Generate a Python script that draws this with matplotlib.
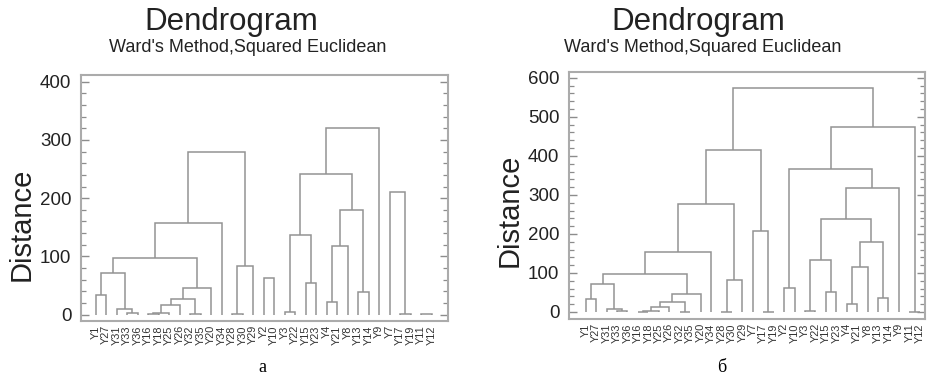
import matplotlib
matplotlib.use("Agg")
import matplotlib.pyplot as plt
from matplotlib.ticker import MultipleLocator

plt.rcParams['font.family'] = ['Liberation Sans', 'DejaVu Sans']

# ---------------- data ----------------
leaves_a = ["Y1", "Y27", "Y31", "Y33", "Y36", "Y16", "Y18", "Y25", "Y26", "Y32", "Y35",
            "Y20", "Y34", "Y28", "Y30", "Y29", "Y2", "Y10", "Y3", "Y22", "Y15", "Y23",
            "Y4", "Y21", "Y8", "Y13", "Y14", "Y9", "Y7", "Y17", "Y19", "Y11", "Y12"]

# merges: (child A, child B, distance); int children refer to earlier merges
merges_a = [
    ("Y1", "Y27", 33.5),    # 0
    ("Y33", "Y36", 3),      # 1
    ("Y31", 1, 10),         # 2
    (0, 2, 71.8),           # 3
    ("Y16", "Y18", 0.5),    # 4
    (4, "Y25", 2),          # 5
    (5, "Y26", 15.8),       # 6
    ("Y32", "Y35", 0.5),    # 7
    (6, 7, 26),             # 8
    (8, "Y20", 46),         # 9
    (3, 9, 97.6),           # 10
    (10, "Y34", 156.7),     # 11
    ("Y28", "Y30", 0.5),    # 12
    (12, "Y29", 84),        # 13
    (11, 13, 278.7),        # 14
    ("Y2", "Y10", 62),      # 15
    ("Y3", "Y22", 4.8),     # 16
    ("Y15", "Y23", 53.6),   # 17
    (16, 17, 136.6),        # 18
    ("Y4", "Y21", 21),      # 19
    (19, "Y8", 118),        # 20
    ("Y13", "Y14", 39),     # 21
    (20, 21, 179.5),        # 22
    (18, 22, 241),          # 23
    (23, "Y9", 320),        # 24
    ("Y17", "Y19", 0.5),    # 25
    ("Y7", 25, 210),        # 26
    ("Y11", "Y12", 0.5),    # 27
]

leaves_b = ["Y1", "Y27", "Y31", "Y33", "Y36", "Y16", "Y18", "Y25", "Y26", "Y32", "Y35",
            "Y20", "Y34", "Y28", "Y30", "Y29", "Y7", "Y17", "Y19", "Y2", "Y10", "Y3",
            "Y22", "Y15", "Y23", "Y4", "Y21", "Y8", "Y13", "Y14", "Y9", "Y11", "Y12"]

merges_b = [
    ("Y1", "Y27", 32.6),    # 0
    ("Y33", "Y36", 2.5),    # 1
    ("Y31", 1, 7.7),        # 2
    (0, 2, 71),             # 3
    ("Y16", "Y18", 0.5),    # 4
    (4, "Y25", 2),          # 5
    (5, "Y26", 13.6),       # 6
    ("Y32", "Y35", 0.5),    # 7
    (6, 7, 24.9),           # 8
    (8, "Y20", 45.4),       # 9
    (3, 9, 97.4),           # 10
    (10, "Y34", 154.6),     # 11
    ("Y28", "Y30", 0.5),    # 12
    (12, "Y29", 82),        # 13
    (11, 13, 277),          # 14
    ("Y17", "Y19", 0.5),    # 15
    ("Y7", 15, 207.7),      # 16
    (14, 16, 415),          # 17
    ("Y2", "Y10", 60.8),    # 18
    ("Y3", "Y22", 3.3),     # 19
    ("Y15", "Y23", 52),     # 20
    (19, 20, 134),          # 21
    ("Y4", "Y21", 20.5),    # 22
    (22, "Y8", 116),        # 23
    ("Y13", "Y14", 36.7),   # 24
    (23, 24, 178.7),        # 25
    (21, 25, 238),          # 26
    (26, "Y9", 318.7),      # 27
    (18, 27, 366),          # 28
    ("Y11", "Y12", 0.5),    # 29
    (28, 29, 475),          # 30
    (17, 30, 573.6),        # 31
]

title = "Dendrogram"
subtitle = "Ward's Method,Squared Euclidean"
ylabel = "Distance"
captions = ["а", "б"]

# ---------------- drawing ----------------
LINE = "#939393"
FRAME = "#ababab"

W, H = 928, 378
fig = plt.figure(figsize=(W / 100, H / 100), dpi=100)


def px_axes(x0, y0, x1, y1):
    return fig.add_axes([x0 / W, 1 - y1 / H, (x1 - x0) / W, (y1 - y0) / H])


def draw_tree(ax, order, merges):
    pos = {name: i for i, name in enumerate(order)}
    xs, hs = [], []

    def get(c):
        if isinstance(c, str):
            return pos[c], 0.0
        return xs[c], hs[c]

    for a, b, h in merges:
        xa, ya = get(a)
        xb, yb = get(b)
        ax.plot([xa, xa, xb, xb], [ya, h, h, yb], color=LINE, lw=1.1,
                solid_joinstyle="miter", solid_capstyle="butt")
        xs.append((xa + xb) / 2)
        hs.append(h)


def style(ax, order, ymax, ylim, xlim):
    ax.set_xlim(*xlim)
    ax.set_ylim(*ylim)
    ax.set_xticks(range(len(order)))
    ax.set_xticklabels(order, rotation=90, fontsize=7.8, color="#333333")
    ax.tick_params(axis="x", length=0, pad=3)
    ax.yaxis.set_major_locator(MultipleLocator(100))
    ax.yaxis.set_minor_locator(MultipleLocator(20))
    ax.set_yticks(range(0, ymax + 1, 100))
    ax.tick_params(axis="y", which="both", direction="in", left=True, right=True,
                   color="#8c8c8c", labelsize=13.5, labelcolor="#222222", pad=7)
    ax.tick_params(axis="y", which="major", length=6, width=1)
    ax.tick_params(axis="y", which="minor", length=3.5, width=0.9)
    for s in ax.spines.values():
        s.set_color(FRAME)
        s.set_linewidth(1.5)


ax_a = px_axes(81, 75, 448, 321)
draw_tree(ax_a, leaves_a, merges_a)
style(ax_a, leaves_a, 400, (-11, 411.5), (-1.4, 33.55))

ax_b = px_axes(569, 72, 925, 319)
draw_tree(ax_b, leaves_b, merges_b)
style(ax_b, leaves_b, 600, (-18, 615), (-1.6, 32.5))

# titles, subtitles, y labels, captions (pixel positions)
for cx, scx, ylx, yly in [(231, 248, 22, 224), (698, 703, 510, 210)]:
    fig.text(cx / W, 1 - 22 / H, title, ha="center", va="center", fontsize=22.5, color="#222222")
    fig.text(scx / W, 1 - 47 / H, subtitle, ha="center", va="center", fontsize=13, color="#222222")
    fig.text(ylx / W, 1 - yly / H, ylabel, ha="center", va="center", rotation=90,
             fontsize=21, color="#222222")
fig.text(262 / W, 1 - 368 / H, captions[0], ha="center", va="center", fontsize=13,
         family=["Liberation Serif", "DejaVu Serif"])
fig.text(722 / W, 1 - 368 / H, captions[1], ha="center", va="center", fontsize=13,
         family=["Liberation Serif", "DejaVu Serif"])

fig.savefig("out.png", dpi=100)
